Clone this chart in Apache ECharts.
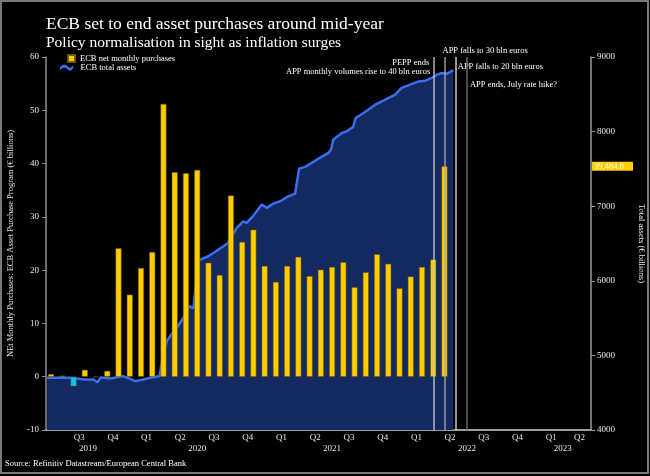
<!DOCTYPE html>
<html><head><meta charset="utf-8">
<script src="https://cdn.jsdelivr.net/npm/echarts@6/dist/echarts.min.js"></script>
<style>html,body{margin:0;padding:0;background:#000}#c{width:650px;height:476px}</style>
</head><body><div id="c"></div>
<script>
// ---------------- data ----------------
const months = ['2019-05','2019-06','2019-07','2019-08','2019-09','2019-10','2019-11','2019-12',
  '2020-01','2020-02','2020-03','2020-04','2020-05','2020-06','2020-07','2020-08','2020-09','2020-10','2020-11','2020-12',
  '2021-01','2021-02','2021-03','2021-04','2021-05','2021-06','2021-07','2021-08','2021-09','2021-10','2021-11','2021-12',
  '2022-01','2022-02','2022-03','2022-04'];
const purchases = [0.5, 0.2, -1.8, 1.3, -0.1, 1.1, 24.1, 15.4,
  20.4, 23.4, 51.2, 38.4, 38.2, 38.8, 21.4, 19.1, 34.0, 25.3, 27.6, 20.8,
  17.8, 20.8, 22.5, 18.9, 20.1, 20.6, 21.5, 16.8, 19.6, 23.0, 21.2, 16.6,
  18.8, 20.6, 22.0, 39.484];
const assetDates = ['2019-05-21','2019-07-22','2019-09-02','2019-09-24','2019-10-05','2019-10-14','2019-11-09','2019-12-13','2019-12-27',
  '2020-01-16','2020-02-07','2020-03-03','2020-03-21','2020-03-31','2020-04-10','2020-04-19','2020-05-07','2020-05-25','2020-06-10','2020-06-21','2020-06-26',
  '2020-07-03','2020-07-09','2020-08-01','2020-09-22','2020-10-17','2020-11-04','2020-11-13','2020-11-30','2020-12-24',
  '2021-01-07','2021-01-25','2021-02-12','2021-03-01','2021-03-23','2021-03-28','2021-04-03','2021-04-19','2021-05-07','2021-05-29','2021-06-21','2021-06-28',
  '2021-07-04','2021-07-28','2021-08-10','2021-08-28','2021-09-04','2021-09-25','2021-10-27','2021-11-23','2021-12-20',
  '2022-01-07','2022-01-25','2022-02-20','2022-03-10','2022-03-28','2022-04-11','2022-04-24','2022-05-08','2022-05-25'];
const assetValues = [4700,4700,4678,4678,4640,4705,4690,4722,4698,
  4655,4678,4708,4722,5013,5191,5258,5370,5504,5660,5629,5629,
  6255,6285,6329,6500,6710,6798,6776,6867,7022,
  6978,7035,7066,7125,7169,7183,7504,7527,7580,7647,7714,7758,
  7892,7982,8003,8062,8183,8250,8361,8428,8495,
  8585,8620,8673,8682,8719,8763,8785,8776,8821];
const quarters = ['2019-Q3','2019-Q4','2020-Q1','2020-Q2','2020-Q3','2020-Q4','2021-Q1','2021-Q2','2021-Q3','2021-Q4',
  '2022-Q1','2022-Q2','2022-Q3','2022-Q4','2023-Q1','2023-Q2'];
const years = ['2019','2020','2021','2022','2023'];
const axisStart = '2019-05-18';
const axisEnd = '2023-06-02';
const events = [
  {date:'2022-04-01', labels:['PEPP ends','APP monthly volumes rise to 40 bln euros']},
  {date:'2022-05-01', labels:['APP falls to 30 bln euros']},
  {date:'2022-06-01', labels:['APP falls to 20 bln euros']},
  {date:'2022-07-01', labels:['APP ends, July rate hike?']}
];

// ---------------- helpers ----------------
function mIdx(s){
  const p = s.split('-').map(Number);
  const y = p[0], mo = p[1], d = p[2] || 1;
  const dim = new Date(y, mo, 0).getDate();
  return (y-2019)*12 + (mo-1) + (d-1)/dim;
}
const xMin = mIdx(axisStart), xMax = mIdx(axisEnd);
function clipMid(a,b){ const lo=Math.max(a,xMin), hi=Math.min(b,xMax); return (lo+hi)/2; }
const qPos = quarters.map(q => { const y=+q.slice(0,4), n=+q.slice(6); const s=(y-2019)*12+(n-1)*3; return {v:clipMid(s,s+3), t:'Q'+n}; });
const yPos = years.map(y => { const s=(+y-2019)*12; return {v:clipMid(s,s+12), t:y}; });
function lookup(arr,v){ let best=arr[0]; arr.forEach(a=>{ if(Math.abs(a.v-v)<Math.abs(best.v-v)) best=a; }); return best.t; }

const FONT = 'Liberation Serif';
const barData = months.map((m,i) => ({
  value: [mIdx(m+'-01')+1, purchases[i]],
  itemStyle: { color: purchases[i] < 0 ? '#00c8ff' : '#ffcc00' }
}));
const lineData = assetDates.map((d,i) => [mIdx(d), assetValues[i]]);
const evColors = ['#c8c8c8','#a8a8a8','#dcdcdc','#707070'];

const chart = echarts.init(document.getElementById('c'), null, {renderer:'canvas'});
chart.setOption({
  backgroundColor: '#000',
  animation: false,
  title: [
    {text:'ECB set to end asset purchases around mid-year', left:46, top:15, padding:0,
     textStyle:{color:'#fff', fontFamily:FONT, fontSize:17.5, fontWeight:'normal'}},
    {text:'Policy normalisation in sight as inflation surges', left:46, top:35, padding:0,
     textStyle:{color:'#fff', fontFamily:FONT, fontSize:15.5, fontWeight:'normal'}}
  ],
  legend: [
    {data:[{name:'ECB net monthly purchases', icon:'rect'}], left:67, top:54, padding:0, itemWidth:7, itemHeight:7, itemGap:4,
     textStyle:{color:'#fff', fontFamily:FONT, fontSize:8.5}, selectedMode:false},
    {data:[{name:'ECB total assets', icon:'path://M0,7 C4,2 7,2 10,5 C13,8 15,8 18,4 L18,8 C15,12 13,12 10,9 C7,6 4,6 0,11 Z'}], left:60, top:63, padding:0, itemWidth:18, itemHeight:6,
     textStyle:{color:'#fff', fontFamily:FONT, fontSize:8.5}, selectedMode:false}
  ],
  grid: {left:46, right:59, top:57, bottom:46, containLabel:false, outerBoundsMode:'none'},
  xAxis: [
    {type:'value', min:xMin, max:xMax, position:'bottom',
     axisLine:{show:true, onZero:false, lineStyle:{color:'#cfcfcf', width:1.5}},
     axisTick:{show:false}, splitLine:{show:false},
     axisLabel:{customValues:qPos.map(q=>q.v), formatter:v=>lookup(qPos,v), color:'#e6e6e6', fontFamily:FONT, fontSize:9, margin:3}},
    {type:'value', min:xMin, max:xMax, position:'bottom',
     axisLine:{show:false}, axisTick:{show:false}, splitLine:{show:false},
     axisLabel:{customValues:yPos.map(q=>q.v), formatter:v=>lookup(yPos,v), color:'#e6e6e6', fontFamily:FONT, fontSize:9, margin:14}}
  ],
  yAxis: [
    {type:'value', position:'left', min:-10, max:60, interval:10,
     name:'NEt Monthly Purchases: ECB Asset Purchase Program (€ billions)', nameLocation:'middle', nameGap:31, nameRotate:90,
     nameTextStyle:{color:'#e6e6e6', fontFamily:FONT, fontSize:8.5},
     axisLine:{show:true, onZero:false, lineStyle:{color:'#8c8c8c', width:1.5}},
     axisTick:{show:true, length:4, lineStyle:{color:'#8c8c8c'}}, splitLine:{show:false},
     axisLabel:{color:'#e6e6e6', fontFamily:FONT, fontSize:9, margin:7}},
    {type:'value', position:'right', min:4000, max:9000, interval:1000,
     name:'Total assets (€ billions)', nameLocation:'middle', nameGap:46, nameRotate:-90,
     nameTextStyle:{color:'#e6e6e6', fontFamily:FONT, fontSize:8.5},
     axisLine:{show:true, onZero:false, lineStyle:{color:'#9a9a9a', width:1.5}},
     axisTick:{show:true, length:4, lineStyle:{color:'#9a9a9a'}}, splitLine:{show:false},
     axisLabel:{color:'#e6e6e6', fontFamily:FONT, fontSize:9, margin:6, formatter:v=>String(v)}}
  ],
  series: [
    {name:'ECB total assets', type:'line', xAxisIndex:0, yAxisIndex:1, data:lineData, symbol:'none', z:1,
     itemStyle:{color:'#3a6df0'},
     lineStyle:{color:'#3a6df0', width:2.5}, areaStyle:{color:'#14295f', opacity:1, origin:'start'}},
    {name:'ECB net monthly purchases', type:'bar', xAxisIndex:0, yAxisIndex:0, data:barData, barWidth:6, z:3,
     itemStyle:{color:'#ffcc00', borderColor:'rgba(110,90,0,0.9)', borderWidth:0.6},
     markLine:{silent:true, symbol:['none','none'], label:{show:false}, z:5,
       data: events.map((e,i)=>({xAxis:mIdx(e.date), lineStyle:{color:evColors[i], width:1.5, type:'solid', opacity:0.9}}))}}
  ]
});

// annotations & value tag placed through the chart's own scales
const gx = v => chart.convertToPixel({xAxisIndex:0}, v);
const gyL = v => chart.convertToPixel({yAxisIndex:0}, v);
const txt = (text,x,y,align) => ({type:'text', x:x, y:y, style:{text:text, fill:'#fff', font:'8.5px "Liberation Serif"', textAlign:align, textVerticalAlign:'middle'}});
const ex = events.map(e => gx(mIdx(e.date)));
const lastVal = purchases[purchases.length-1];
const tagY = gyL(lastVal);
const tagText = (lastVal*1000).toLocaleString('en-US',{minimumFractionDigits:1, maximumFractionDigits:1});
const gr = gx(xMax);
chart.setOption({
  graphic: [
    txt(events[0].labels[0], ex[0]-4, 63, 'right'),
    txt(events[0].labels[1], ex[0]-3, 72, 'right'),
    txt(events[1].labels[0], ex[1]-2, 51, 'left'),
    txt(events[2].labels[0], ex[2]+2, 67, 'left'),
    txt(events[3].labels[0], ex[3]+3, 85, 'left'),
    {type:'rect', shape:{x:gr+1, y:tagY-4.5, width:41, height:9}, style:{fill:'#ffcc00'}},
    {type:'text', x:gr+3, y:tagY, style:{text:tagText, fill:'#fff', font:'8.5px "Liberation Serif"', textAlign:'left', textVerticalAlign:'middle'}},
    {type:'text', left:5, top:459, style:{text:'Source: Refinitiv Datastream/European Central Bank', fill:'#fff', font:'8.5px "Liberation Serif"'}},
    {type:'rect', shape:{x:1, y:1, width:647, height:472}, style:{fill:'none', stroke:'#7a7a7a', lineWidth:2}, silent:true}
  ]
});
</script></body></html>
